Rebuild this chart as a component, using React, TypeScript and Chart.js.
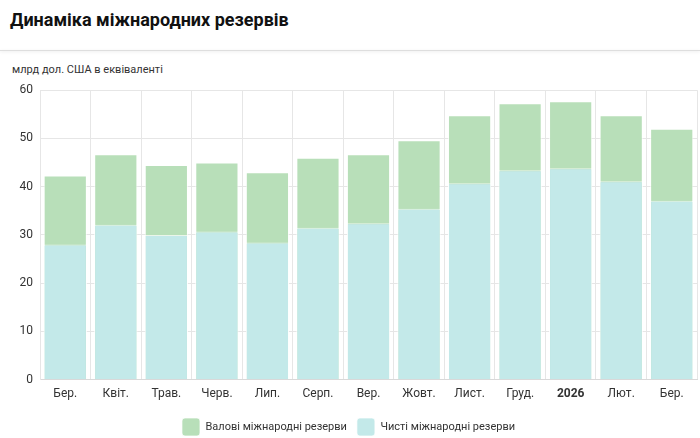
import { useEffect, useRef } from "react"
import { Chart, registerables } from "chart.js"

Chart.register(...registerables)

const months = ["Бер.", "Квіт.", "Трав.", "Черв.", "Лип.", "Серп.", "Вер.", "Жовт.", "Лист.", "Груд.", "2026", "Лют.", "Бер."]
const grossReserves = [42.3, 46.7, 44.5, 45.0, 43.0, 46.0, 46.7, 49.6, 54.8, 57.3, 57.7, 54.8, 52.0]
const netReserves = [28.0, 32.1, 30.0, 30.7, 28.4, 31.5, 32.4, 35.4, 40.7, 43.4, 43.8, 41.1, 37.1]
const yTicks = [0, 10, 20, 30, 40, 50, 60]

const FONT = "Roboto, 'Liberation Sans', Arial, sans-serif"

export default function App() {
  const chartRef = useRef<HTMLCanvasElement>(null)
  const chartInstance = useRef<Chart | null>(null)

  useEffect(() => {
    if (!chartRef.current) return
    if (chartInstance.current) chartInstance.current.destroy()

    const ctx = chartRef.current.getContext("2d")
    if (!ctx) return

    chartInstance.current = new Chart(ctx, {
      type: "bar",
      data: {
        labels: months,
        datasets: [
          {
            label: "Валові міжнародні резерви",
            data: grossReserves,
            backgroundColor: "#b8dfb9",
            borderColor: "rgba(255, 255, 255, 0.7)",
            borderWidth: 1,
            order: 1,
          },
          {
            label: "Чисті міжнародні резерви",
            data: netReserves,
            backgroundColor: "#c3e9e9",
            borderColor: "rgba(255, 255, 255, 0.7)",
            borderWidth: 1,
            order: 0,
          },
        ],
      },
      options: {
        responsive: true,
        maintainAspectRatio: false,
        animation: false,
        categoryPercentage: 0.9,
        barPercentage: 0.95,
        layout: {
          padding: { top: 2, left: 0, right: 3, bottom: 0 },
        },
        scales: {
          x: {
            stacked: true,
            grid: {
              color: "#e6e6e6",
              drawTicks: false,
            },
            border: { color: "#d9d9d9" },
            ticks: {
              padding: 7,
              color: "#333",
              font: (c) => ({
                family: FONT,
                size: 12,
                weight: c.index === 10 ? "bold" : "normal",
              }),
            },
          },
          y: {
            stacked: false,
            min: 0,
            max: 60,
            afterBuildTicks: (axis) => {
              axis.ticks = yTicks.map((v) => ({ value: v }))
            },
            afterFit: (axis) => {
              axis.width = 40
            },
            grid: {
              color: "#e6e6e6",
              drawTicks: false,
            },
            border: { color: "#e6e6e6" },
            ticks: {
              padding: 7,
              color: "#333",
              font: { family: FONT, size: 12 },
            },
          },
        },
        plugins: {
          legend: {
            position: "bottom",
            labels: {
              boxWidth: 18,
              boxHeight: 18,
              useBorderRadius: true,
              borderRadius: 3,
              padding: 10,
              color: "#333",
              font: { family: FONT, size: 11 },
              sort: (a, b) => (a.datasetIndex ?? 0) - (b.datasetIndex ?? 0),
            },
          },
          tooltip: { enabled: false },
        },
      },
    })

    return () => {
      if (chartInstance.current) {
        chartInstance.current.destroy()
        chartInstance.current = null
      }
    }
  }, [])

  return (
    <div
      style={{
        position: "fixed",
        top: 0,
        left: 0,
        width: 700,
        height: 438,
        background: "#fff",
        fontFamily: FONT,
        overflow: "hidden",
      }}
    >
      <div
        style={{
          position: "absolute",
          top: 9,
          left: 10,
          fontSize: 18,
          fontWeight: "bold",
          color: "#111",
        }}
      >
        Динаміка міжнародних резервів
      </div>
      <div
        style={{
          position: "absolute",
          top: 50,
          left: 0,
          width: 700,
          height: 1,
          background: "#dedede",
          boxShadow: "0 1px 3px rgba(0,0,0,0.12)",
        }}
      />
      <div
        style={{
          position: "absolute",
          top: 63,
          left: 12,
          fontSize: 11,
          color: "#333",
        }}
      >
        млрд дол. США в еквіваленті
      </div>
      <div style={{ position: "absolute", top: 76, left: 0, width: 700, height: 370 }}>
        <canvas ref={chartRef}></canvas>
      </div>
    </div>
  )
}
